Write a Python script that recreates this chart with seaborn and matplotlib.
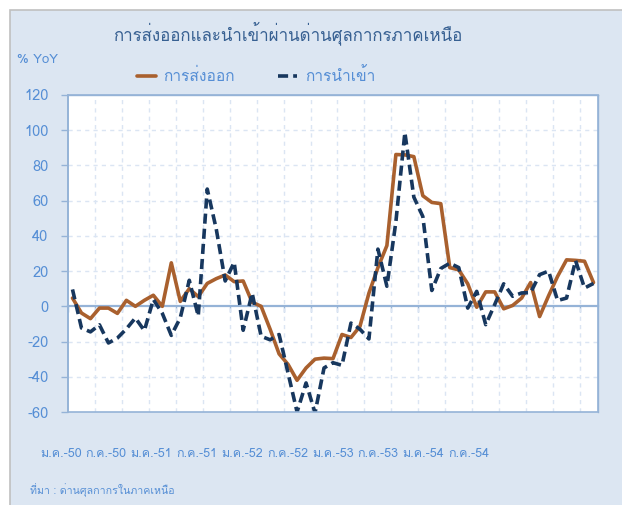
import numpy as np
import pandas as pd
import matplotlib
matplotlib.use("Agg")
import matplotlib.pyplot as plt
import seaborn as sns
from matplotlib import font_manager
from matplotlib.patches import Rectangle
from fontTools.ttLib import TTFont

# monthly % YoY, Jan 2007 (ม.ค.-50) .. Nov 2011
exports = [4.7, -3.8, -7, -1, -1, -4, 3.4, 0, 3.4, 6.3,
           0, 24.7, 2.8, 10, 5.5, 13, 15.7, 17.8, 14, 14.4,
           2.3, 0, -13, -27, -33, -42, -35, -30, -29.4, -29.7,
           -16, -17.7, -11.4, 7.5, 22, 34.5, 86.2, 86, 85, 62.8,
           59, 58.3, 22, 20.7, 12.8, -0.5, 8.2, 8.2, -1.4, 0.5,
           4.7, 13.5, -5.8, 6, 17, 26.4, 26.1, 25.6, 13.5]
imports = [9.6, -12.3, -14.5, -10.5, -20.8, -18, -12.8, -6.6, -13.8, 3.9,
           -4, -16.5, -6.5, 14.8, -5.5, 66.6, 44, 14.4, 25, -13.6,
           7.5, -17, -19, -16, -38, -60, -43.5, -60.5, -35, -32,
           -33.5, -9.5, -13, -18.5, 32.5, 11.4, 48, 98.7, 62, 51,
           9, 21.5, 24.5, 22, -1, 8.5, -10.4, 1, 12.8, 5.7,
           7.6, 7.8, 18, 20, 3.3, 4.7, 26, 10.4, 13]
month_labels = ["ม.ค.-50", "ก.ค.-50", "ม.ค.-51", "ก.ค.-51", "ม.ค.-52",
                "ก.ค.-52", "ม.ค.-53", "ก.ค.-53", "ม.ค.-54", "ก.ค.-54"]
y_ticks = [-60, -40, -20, 0, 20, 40, 60, 80, 100, 120]

title = "การส่งออกและนำเข้าผ่านด่านศุลกากรภาคเหนือ"
name_exp = "การส่งออก"
name_imp = "การนำเข้า"
source = "ที่มา : ด่านศุลกากรในภาคเหนือ"

BG = "#dce6f2"
BROWN = "#a9602e"
NAVY = "#17375e"
LABEL = "#558ed5"
TITLE = "#376092"
FRAME = "#95b3d7"
GRID = "#dbe5f3"


def thai_family():
    for f in font_manager.fontManager.ttflist:
        try:
            tt = TTFont(f.fname, fontNumber=0, lazy=True)
            if 0x0E01 in tt.getBestCmap():
                return f.name
        except Exception:
            pass
    return None


def main():
    sns.set_style("white")
    fam = thai_family()
    plt.rcParams["font.family"] = ([fam] if fam else []) + ["DejaVu Sans"]

    n = len(exports)
    df = pd.DataFrame({"month": np.arange(n), "exp": exports, "imp": imports})

    fig = plt.figure(figsize=(6.22, 5.05), dpi=100, facecolor="white")
    fig.patches.append(Rectangle((10 / 622, -0.1), 1.1, 1.1 - 10 / 505,
                                 transform=fig.transFigure, facecolor=BG,
                                 edgecolor="#c0c0c0", lw=1.2, zorder=-10))
    ax = fig.add_axes([68 / 622, 1 - 412 / 505, 530 / 622, 317 / 505])
    ax.set_facecolor("white")

    sns.lineplot(data=df, x="month", y="exp", color=BROWN, lw=2.6,
                 label=name_exp, ax=ax, legend=False, zorder=4)
    sns.lineplot(data=df, x="month", y="imp", color=NAVY, lw=2.6,
                 linestyle=(0, (2.8, 1.4)), label=name_imp, ax=ax,
                 legend=False, zorder=5)

    ax.set_xlim(-0.5, n - 0.5)
    ax.set_ylim(-60, 120)
    ax.set_yticks(y_ticks)
    ax.set_yticklabels([str(v) for v in y_ticks])
    ax.set_xticks(np.arange(-0.5, n - 0.5, 3))
    ax.set_xticklabels([])
    ax.set_xlabel("")
    ax.set_ylabel("")

    for v in y_ticks[1:-1]:
        if v != 0:
            ax.axhline(v, color=GRID, lw=1.0, ls=(0, (3, 3)), zorder=1)
    for v in np.arange(2.5, n - 0.5, 3):
        ax.axvline(v, color=GRID, lw=1.0, ls=(0, (3, 3)), zorder=1)

    for s in ["top", "right"]:
        ax.spines[s].set_color(FRAME)
        ax.spines[s].set_linewidth(1.0)
    ax.spines["left"].set_color(FRAME)
    ax.spines["left"].set_linewidth(1.2)
    ax.spines["bottom"].set_position(("data", 0))
    ax.spines["bottom"].set_color(FRAME)
    ax.spines["bottom"].set_linewidth(1.6)
    ax.add_patch(Rectangle((0, 0), 1, 1, transform=ax.transAxes, fill=False,
                           edgecolor=FRAME, lw=1.2, zorder=6, clip_on=False))

    ax.tick_params(axis="y", direction="out", length=5, width=1, color=FRAME,
                   labelcolor=LABEL, labelsize=10.5, pad=9, left=True)
    ax.tick_params(axis="x", direction="out", length=4, width=1, color=FRAME,
                   bottom=True)

    fig.text(288 / 622, 1 - 33 / 505, title, ha="center", va="center",
             fontsize=12.2, color=TITLE)
    fig.text(17 / 622, 1 - 60 / 505, "% YoY", ha="left", va="center",
             fontsize=9.5, color=LABEL)

    handles, labels = ax.get_legend_handles_labels()
    fig.legend(handles, labels, loc="center", bbox_to_anchor=(256 / 622, 1 - 76 / 505),
               ncol=2, frameon=False, fontsize=11.2, labelcolor=LABEL,
               handlelength=1.2, columnspacing=2.8, handletextpad=0.5)

    left_c, right_c = 61, 468.5
    step = (right_c - left_c) / (len(month_labels) - 1)
    for i, lab in enumerate(month_labels):
        fig.text((left_c + i * step) / 622, 1 - 454 / 505, lab, ha="center",
                 va="center", fontsize=9.0, color=LABEL)

    fig.text(30 / 622, 1 - 490 / 505, source, ha="left", va="center",
             fontsize=7.6, color=LABEL)

    fig.savefig("out.png", dpi=100, facecolor="white")
    plt.close(fig)


if __name__ == "__main__":
    main()
